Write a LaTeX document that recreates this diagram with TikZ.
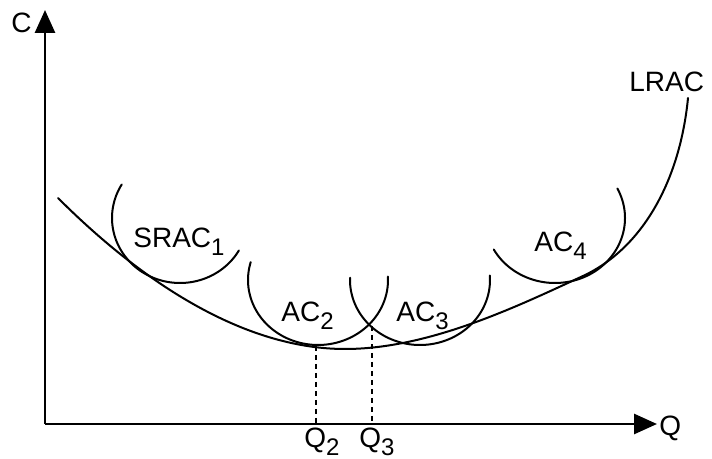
\documentclass[tikz,border=0pt]{standalone}
\usepackage{fontspec}
\setmainfont{Liberation Sans}
\usetikzlibrary{arrows.meta}
\newcommand{\sbs}[1]{\raisebox{-4pt}{\fontsize{12}{13}\selectfont #1}}
\begin{document}
\begin{tikzpicture}[x=0.5pt,y=-0.5pt,
  curve/.style={line width=1pt, line cap=round},
  axis/.style={line width=1.4pt, -{Triangle[length=11.5pt,width=10pt]}},
  lbl/.style={font=\fontsize{14}{16}\selectfont, inner sep=0pt, anchor=base west},
  guide/.style={line width=1pt, dash pattern=on 2.5pt off 2pt}]
\useasboundingbox (0,0) rectangle (712,459);
% axes
\coordinate (O) at (45,424);
\coordinate (Ytip) at (45,10);
\coordinate (Xtip) at (657,424);
\draw[axis] (O) -- (Ytip);
\draw[axis] (O) -- (Xtip);
% LRAC
\coordinate (L0) at (58,198);
\coordinate (Lmin) at (345,349);
\coordinate (Lmid) at (583,276);
\coordinate (Lend) at (688,98);
\draw[curve] (L0) .. controls (150,290) and (250,349) .. (Lmin)
  .. controls (430,349) and (520,305) .. (Lmid)
  .. controls (643,248) and (680,180) .. (Lend);
% short-run curves
\draw[curve] plot[domain=149:330, samples=80] ({180+68*cos(\x)}, {218-65*sin(\x)});
\draw[curve] plot[domain=164:363, samples=80] ({318+70*cos(\x)}, {280-65*sin(\x)});
\draw[curve] plot[domain=178:364, samples=80] ({420+70*cos(\x)}, {280-65*sin(\x)});
\draw[curve] plot[domain=209:387, samples=80] ({555+70*cos(\x)}, {218-65*sin(\x)});
% guides
\coordinate (q2top) at (316,346);
\coordinate (q2bot) at (316,424);
\coordinate (q3top) at (372,326);
\coordinate (q3bot) at (372,424);
\draw[guide] (q2top) -- (q2bot);
\draw[guide] (q3top) -- (q3bot);
% labels
\node[lbl] (c) at (11,33) {C};
\node[lbl] (q) at (659,436) {Q};
\node[lbl] (q2) at (304,448) {Q\sbs{2}};
\node[lbl] (q3) at (359,448) {Q\sbs{3}};
\node[lbl] (srac) at (133,248) {SRAC\sbs{1}};
\node[lbl] (ac2) at (281,322) {AC\sbs{2}};
\node[lbl] (ac3) at (396,322) {AC\sbs{3}};
\node[lbl] (ac4) at (534,252) {AC\sbs{4}};
\node[lbl] (lrac) at (629,92) {LRAC};
\end{tikzpicture}
\end{document}
